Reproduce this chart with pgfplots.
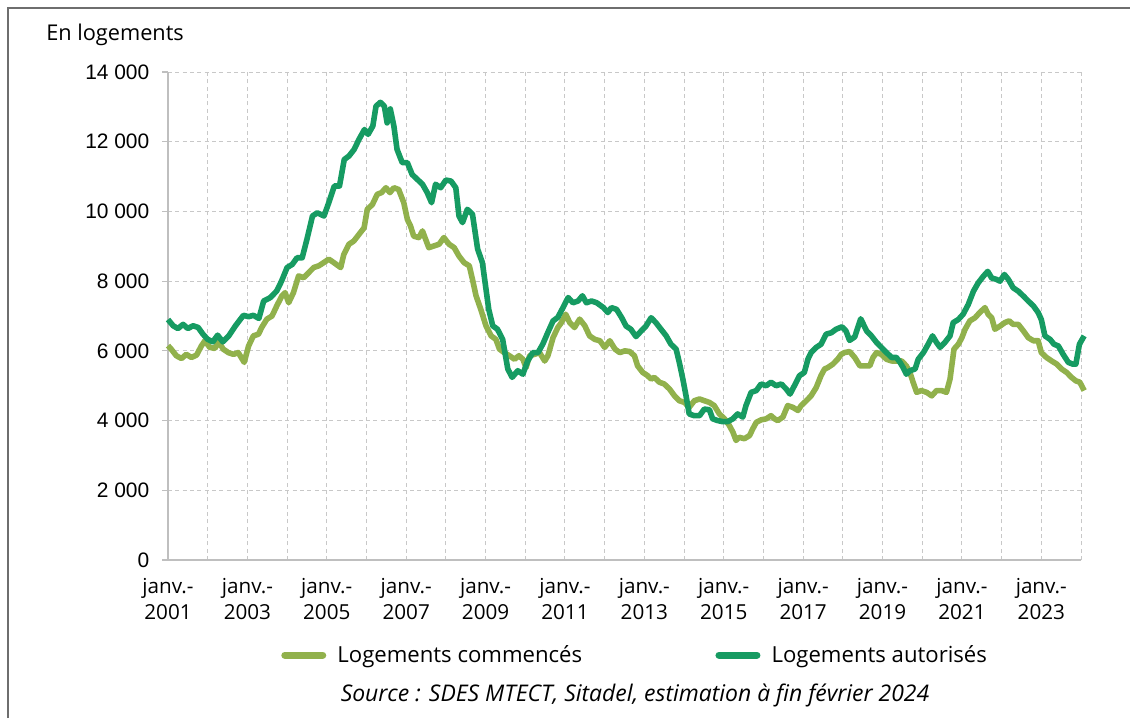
\documentclass[border=0pt]{standalone}
\usepackage{fontspec}
\setmainfont{Open Sans}
\newfontfamily\arialf{Liberation Sans}
\usepackage{pgfplots}
\pgfplotsset{compat=1.18}
\definecolor{autor}{HTML}{169B62}
\definecolor{comm}{HTML}{91B14C}
\definecolor{gridc}{HTML}{C8C8C8}
\definecolor{axc}{HTML}{BFBFBF}
\definecolor{framec}{HTML}{6E6E6E}
\begin{document}
\begin{tikzpicture}[x=0.75pt,y=0.75pt]
\path[use as bounding box] (0,0) rectangle (1130,718);
\draw[framec, line width=1.2pt] (8,0) -- (8,710) -- (1130,710);
\node[anchor=base west, inner sep=0pt, font=\fontsize{16.3}{18}\selectfont] at (46,677) {En logements};
\begin{axis}[
  at={(126pt,118.5pt)}, anchor=south west,
  scale only axis, width=684.75pt, height=366pt,
  xmin=2001, xmax=2024, ymin=0, ymax=14000,
  clip=false, scaled y ticks=false,
  axis x line*=bottom, axis y line*=left,
  axis line style={-, axc, line width=0.9pt},
  xtick={2001,2003,...,2023},
  minor xtick={2002,2004,...,2024},
  xticklabels={{janv.-\\2001},{janv.-\\2003},{janv.-\\2005},{janv.-\\2007},{janv.-\\2009},{janv.-\\2011},{janv.-\\2013},{janv.-\\2015},{janv.-\\2017},{janv.-\\2019},{janv.-\\2021},{janv.-\\2023}},
  xticklabel style={align=center, font=\fontsize{15.5}{19.5}\selectfont, yshift=-6pt},
  ytick={0,2000,...,14000},
  yticklabels={0,2 000,4 000,6 000,8 000,10 000,12 000,14 000},
  yticklabel style={font=\arialf\fontsize{15.7}{18}\selectfont, xshift=-6pt},
  xtick style={draw=none}, minor tick style={draw=none},
  ytick style={axc, line width=0.9pt},
  tick align=outside, major tick length=4.5pt,
  grid=both,
  major grid style={gridc, dash pattern=on 3pt off 2.5pt, line width=0.7pt},
  minor grid style={gridc, dash pattern=on 3pt off 2.5pt, line width=0.7pt},
  legend style={at={(0.512,-0.195)}, anchor=center, draw=none, fill=none,
    legend columns=2, font=\fontsize{16.6}{18}\selectfont,
    /tikz/every even column/.append style={column sep=98pt}},
  legend cell align=left,
  legend image code/.code={\draw[#1, line width=5.5pt, line cap=round] (2.75pt,0) -- (31pt,0); \path (38pt,0);},
]
\addplot[comm, line width=4.2pt, line join=round] coordinates {
(2001.0,6150)(2001.08,6050)(2001.21,5860)(2001.34,5780)(2001.46,5900)(2001.59,5810)(2001.72,5880)(2001.84,6140)(2001.93,6290)
(2002.05,6100)(2002.18,6070)(2002.28,6260)(2002.39,6050)(2002.52,5950)(2002.65,5900)(2002.77,5950)(2002.92,5670)
(2003.03,6140)(2003.15,6430)(2003.28,6480)(2003.36,6670)(2003.49,6910)(2003.62,7000)(2003.74,7290)(2003.87,7580)(2003.95,7670)
(2004.04,7380)(2004.16,7670)(2004.29,8150)(2004.42,8100)(2004.54,8240)(2004.67,8390)(2004.8,8440)(2004.92,8530)
(2005.05,8630)(2005.18,8530)(2005.35,8390)(2005.43,8770)(2005.56,9060)(2005.68,9150)(2005.81,9340)(2005.94,9530)
(2006.02,10060)(2006.15,10200)(2006.27,10490)(2006.38,10540)(2006.49,10680)(2006.59,10540)(2006.69,10680)(2006.81,10630)(2006.94,10250)
(2007.03,9770)(2007.11,9580)(2007.19,9290)(2007.32,9250)(2007.41,9440)(2007.49,9200)(2007.57,8960)(2007.7,9010)(2007.83,9060)(2007.95,9250)
(2008.08,9060)(2008.21,8960)(2008.33,8720)(2008.46,8530)(2008.59,8440)(2008.67,8050)(2008.76,7580)(2008.88,7190)
(2009.01,6720)(2009.14,6430)(2009.26,6330)(2009.35,6050)(2009.47,5950)(2009.6,5860)(2009.73,5760)(2009.84,5860)(2009.94,5760)
(2010.02,5520)(2010.11,5860)(2010.23,5900)(2010.36,5950)(2010.49,5710)(2010.57,5860)(2010.7,6380)(2010.82,6670)(2010.91,6810)
(2011.02,7050)(2011.12,6810)(2011.24,6670)(2011.37,6910)(2011.5,6720)(2011.62,6430)(2011.75,6330)(2011.88,6290)
(2012.0,6100)(2012.13,6290)(2012.26,6050)(2012.38,5950)(2012.51,6000)(2012.63,5980)(2012.75,5860)(2012.83,5570)(2012.96,5380)
(2013.08,5290)(2013.17,5190)(2013.25,5240)(2013.38,5100)(2013.5,5050)(2013.63,4910)(2013.76,4710)(2013.88,4570)
(2014.01,4520)(2014.13,4380)(2014.26,4570)(2014.39,4620)(2014.51,4570)(2014.64,4520)(2014.76,4430)(2014.89,4190)
(2015.02,4050)(2015.14,3860)(2015.23,3670)(2015.31,3430)(2015.39,3520)(2015.52,3480)(2015.65,3570)(2015.73,3760)(2015.82,3950)(2015.94,4020)
(2016.07,4050)(2016.19,4140)(2016.28,4050)(2016.36,4000)(2016.49,4100)(2016.61,4430)(2016.74,4380)(2016.87,4290)(2016.95,4430)
(2017.08,4570)(2017.2,4710)(2017.33,4950)(2017.45,5290)(2017.54,5480)(2017.62,5520)(2017.75,5620)(2017.87,5760)(2017.96,5900)
(2018.04,5950)(2018.17,5980)(2018.3,5810)(2018.43,5570)(2018.55,5570)(2018.68,5570)(2018.76,5810)(2018.85,5950)(2018.97,5900)
(2019.1,5760)(2019.23,5710)(2019.35,5710)(2019.48,5710)(2019.6,5570)(2019.69,5380)(2019.77,5100)(2019.86,4810)(2019.98,4860)
(2020.11,4810)(2020.24,4710)(2020.36,4860)(2020.49,4860)(2020.61,4810)(2020.7,5190)(2020.8,6050)(2020.91,6190)
(2021.0,6380)(2021.08,6620)(2021.2,6860)(2021.33,6950)(2021.45,7100)(2021.58,7240)(2021.66,7050)(2021.75,6950)(2021.83,6620)(2021.96,6710)
(2022.08,6810)(2022.19,6860)(2022.29,6760)(2022.42,6760)(2022.55,6570)(2022.67,6380)(2022.8,6290)(2022.92,6290)
(2023.0,5950)(2023.13,5810)(2023.26,5710)(2023.39,5620)(2023.51,5480)(2023.64,5380)(2023.76,5240)(2023.87,5140)(2023.97,5100)(2024.08,4860)
};
\addlegendentry{Logements commencés}
\addplot[autor, line width=4.2pt, line join=round] coordinates {
(2001.0,6900)(2001.13,6720)(2001.25,6640)(2001.38,6760)(2001.5,6640)(2001.63,6720)(2001.76,6670)(2001.88,6480)
(2002.0,6330)(2002.13,6260)(2002.25,6450)(2002.38,6260)(2002.53,6430)(2002.7,6720)(2002.9,7020)
(2003.03,6980)(2003.15,7020)(2003.29,6930)(2003.41,7430)(2003.58,7530)(2003.74,7720)(2003.86,8000)
(2004.0,8390)(2004.13,8480)(2004.25,8670)(2004.38,8670)(2004.5,9200)(2004.64,9870)(2004.76,9960)(2004.93,9870)
(2005.05,10250)(2005.19,10730)(2005.32,10730)(2005.44,11490)(2005.56,11590)(2005.69,11780)(2005.81,12065)(2005.95,12350)
(2006.04,12210)(2006.16,12450)(2006.24,13020)(2006.35,13130)(2006.45,13020)(2006.52,12540)(2006.6,12940)(2006.69,12450)(2006.77,11780)(2006.9,11400)
(2007.03,11400)(2007.15,11060)(2007.28,10920)(2007.41,10780)(2007.53,10540)(2007.64,10250)(2007.74,10780)(2007.87,10680)
(2008.0,10900)(2008.13,10870)(2008.25,10680)(2008.33,9870)(2008.42,9680)(2008.54,10060)(2008.67,9920)(2008.8,8920)(2008.92,8530)
(2009.0,7860)(2009.08,7190)(2009.18,6720)(2009.3,6620)(2009.43,6330)(2009.56,5480)(2009.67,5240)(2009.81,5430)(2009.94,5330)
(2010.06,5710)(2010.19,5950)(2010.32,5950)(2010.44,6190)(2010.57,6530)(2010.7,6860)(2010.82,6960)(2010.95,7240)
(2011.08,7530)(2011.2,7380)(2011.33,7430)(2011.44,7580)(2011.54,7380)(2011.67,7430)(2011.8,7380)(2011.97,7240)
(2012.08,7100)(2012.17,7240)(2012.3,7190)(2012.43,6950)(2012.54,6710)(2012.66,6620)(2012.79,6410)(2012.92,6570)
(2013.04,6710)(2013.17,6950)(2013.29,6810)(2013.42,6620)(2013.55,6430)(2013.67,6190)(2013.8,6050)(2013.88,5670)(2013.97,5190)
(2014.05,4710)(2014.13,4190)(2014.26,4140)(2014.39,4140)(2014.51,4330)(2014.64,4310)(2014.72,4050)(2014.85,4000)(2014.97,3970)
(2015.1,3970)(2015.23,4050)(2015.35,4190)(2015.48,4100)(2015.56,4430)(2015.69,4810)(2015.82,4860)(2015.94,5050)
(2016.07,5000)(2016.19,5100)(2016.32,5000)(2016.45,5050)(2016.57,4910)(2016.67,4760)(2016.78,5000)(2016.91,5290)
(2017.03,5380)(2017.12,5760)(2017.2,5950)(2017.33,6100)(2017.45,6190)(2017.58,6480)(2017.71,6520)(2017.83,6620)(2017.98,6690)
(2018.08,6570)(2018.17,6300)(2018.3,6400)(2018.45,6920)(2018.6,6570)(2018.72,6430)(2018.85,6240)(2018.97,6100)
(2019.1,5950)(2019.23,5810)(2019.35,5810)(2019.44,5670)(2019.52,5520)(2019.6,5330)(2019.69,5430)(2019.82,5480)(2019.9,5760)
(2020.03,5950)(2020.15,6190)(2020.26,6430)(2020.36,6240)(2020.45,6100)(2020.57,6240)(2020.7,6430)(2020.78,6810)(2020.91,6900)
(2021.03,7050)(2021.16,7330)(2021.29,7710)(2021.41,7950)(2021.54,8140)(2021.65,8280)(2021.75,8090)(2021.87,8050)(2021.96,8000)
(2022.07,8190)(2022.17,8050)(2022.29,7810)(2022.42,7710)(2022.55,7570)(2022.67,7430)(2022.8,7290)(2022.92,7100)
(2023.0,6900)(2023.09,6430)(2023.22,6330)(2023.32,6190)(2023.43,6140)(2023.55,5900)(2023.68,5670)(2023.79,5620)(2023.87,5620)(2023.96,6190)(2024.08,6430)
};
\addlegendentry{Logements autorisés}
\end{axis}
\node[font=\itshape\fontsize{17.2}{18}\selectfont] at (635,23) {Source : SDES MTECT, Sitadel, estimation à fin février 2024};
\end{tikzpicture}
\end{document}
